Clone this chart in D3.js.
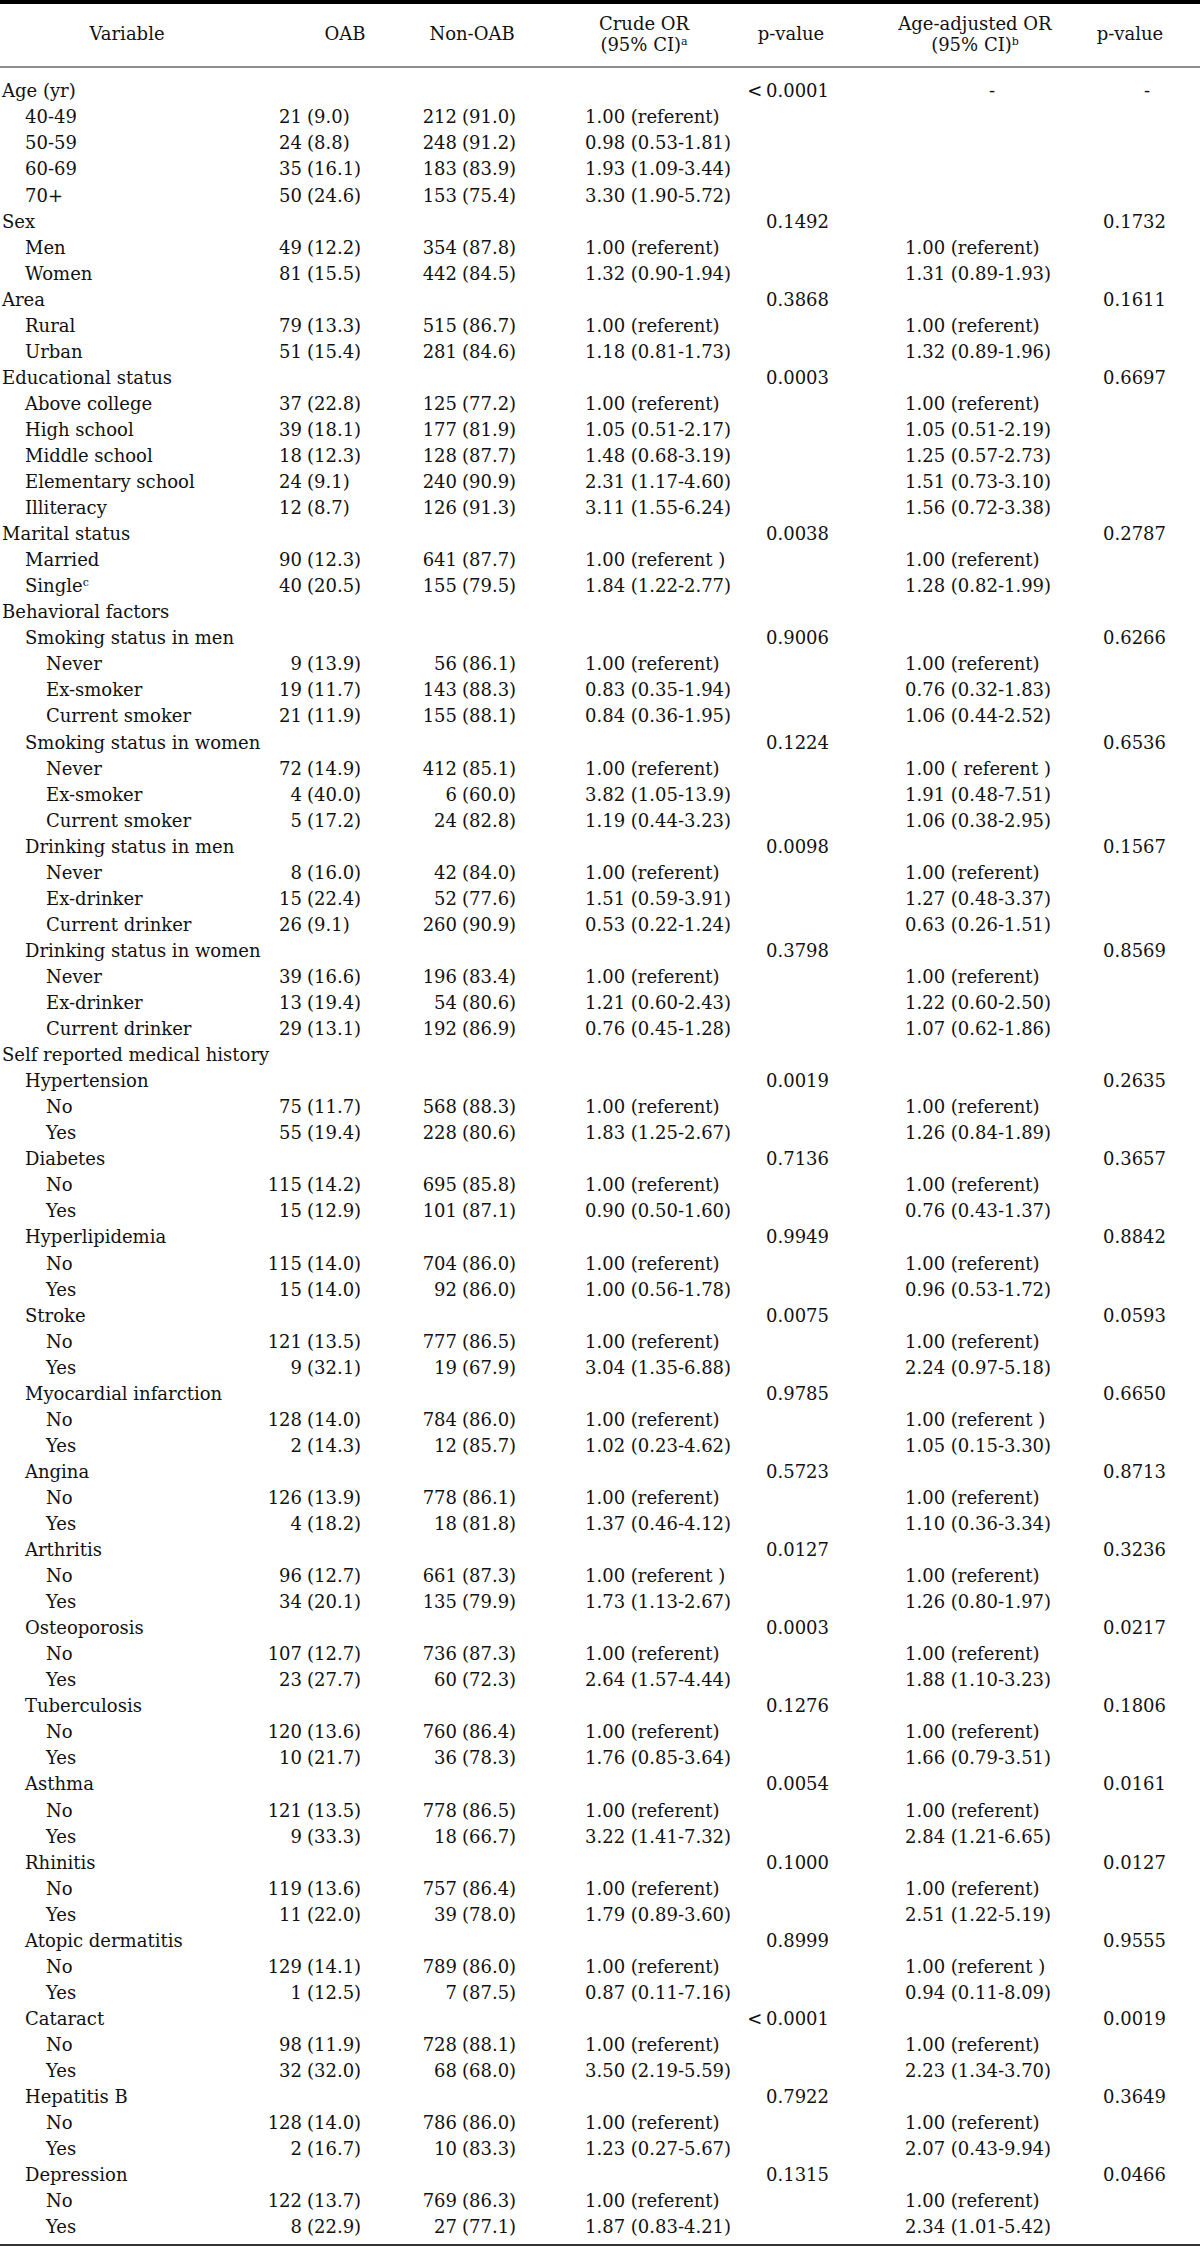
<!DOCTYPE html>
<html>
<head>
<meta charset="utf-8">
<script src="https://cdn.jsdelivr.net/npm/d3@7"></script>
<style>
  body { margin: 0; background: #fff; }
  text { font-family: "DejaVu Serif", "Liberation Serif", serif; font-size: 18px; fill: #111; }
</style>
</head>
<body>
<svg id="chart"></svg>
<script>
// row labels, "^" marks a superscript
const labels = [
  "Age (yr)", "40-49", "50-59", "60-69", "70+",
  "Sex", "Men", "Women",
  "Area", "Rural", "Urban",
  "Educational status", "Above college", "High school", "Middle school", "Elementary school", "Illiteracy",
  "Marital status", "Married", "Single^c",
  "Behavioral factors",
  "Smoking status in men", "Never", "Ex-smoker", "Current smoker",
  "Smoking status in women", "Never", "Ex-smoker", "Current smoker",
  "Drinking status in men", "Never", "Ex-drinker", "Current drinker",
  "Drinking status in women", "Never", "Ex-drinker", "Current drinker",
  "Self reported medical history",
  "Hypertension", "No", "Yes",
  "Diabetes", "No", "Yes",
  "Hyperlipidemia", "No", "Yes",
  "Stroke", "No", "Yes",
  "Myocardial infarction", "No", "Yes",
  "Angina", "No", "Yes",
  "Arthritis", "No", "Yes",
  "Osteoporosis", "No", "Yes",
  "Tuberculosis", "No", "Yes",
  "Asthma", "No", "Yes",
  "Rhinitis", "No", "Yes",
  "Atopic dermatitis", "No", "Yes",
  "Cataract", "No", "Yes",
  "Hepatitis B", "No", "Yes",
  "Depression", "No", "Yes"
];

const levels = [
  0, 1, 1, 1, 1,
  0, 1, 1,
  0, 1, 1,
  0, 1, 1, 1, 1, 1,
  0, 1, 1,
  0,
  1, 2, 2, 2,
  1, 2, 2, 2,
  1, 2, 2, 2,
  1, 2, 2, 2,
  0,
  1, 2, 2, 1, 2, 2, 1, 2, 2, 1, 2, 2, 1, 2, 2,
  1, 2, 2, 1, 2, 2, 1, 2, 2, 1, 2, 2, 1, 2, 2,
  1, 2, 2, 1, 2, 2, 1, 2, 2, 1, 2, 2, 1, 2, 2
];

const oab = [
  "", "21 (9.0)", "24 (8.8)", "35 (16.1)", "50 (24.6)",
  "", "49 (12.2)", "81 (15.5)",
  "", "79 (13.3)", "51 (15.4)",
  "", "37 (22.8)", "39 (18.1)", "18 (12.3)", "24 (9.1)", "12 (8.7)",
  "", "90 (12.3)", "40 (20.5)",
  "",
  "", "9 (13.9)", "19 (11.7)", "21 (11.9)",
  "", "72 (14.9)", "4 (40.0)", "5 (17.2)",
  "", "8 (16.0)", "15 (22.4)", "26 (9.1)",
  "", "39 (16.6)", "13 (19.4)", "29 (13.1)",
  "",
  "", "75 (11.7)", "55 (19.4)",
  "", "115 (14.2)", "15 (12.9)",
  "", "115 (14.0)", "15 (14.0)",
  "", "121 (13.5)", "9 (32.1)",
  "", "128 (14.0)", "2 (14.3)",
  "", "126 (13.9)", "4 (18.2)",
  "", "96 (12.7)", "34 (20.1)",
  "", "107 (12.7)", "23 (27.7)",
  "", "120 (13.6)", "10 (21.7)",
  "", "121 (13.5)", "9 (33.3)",
  "", "119 (13.6)", "11 (22.0)",
  "", "129 (14.1)", "1 (12.5)",
  "", "98 (11.9)", "32 (32.0)",
  "", "128 (14.0)", "2 (16.7)",
  "", "122 (13.7)", "8 (22.9)"
];

const nonOab = [
  "", "212 (91.0)", "248 (91.2)", "183 (83.9)", "153 (75.4)",
  "", "354 (87.8)", "442 (84.5)",
  "", "515 (86.7)", "281 (84.6)",
  "", "125 (77.2)", "177 (81.9)", "128 (87.7)", "240 (90.9)", "126 (91.3)",
  "", "641 (87.7)", "155 (79.5)",
  "",
  "", "56 (86.1)", "143 (88.3)", "155 (88.1)",
  "", "412 (85.1)", "6 (60.0)", "24 (82.8)",
  "", "42 (84.0)", "52 (77.6)", "260 (90.9)",
  "", "196 (83.4)", "54 (80.6)", "192 (86.9)",
  "",
  "", "568 (88.3)", "228 (80.6)",
  "", "695 (85.8)", "101 (87.1)",
  "", "704 (86.0)", "92 (86.0)",
  "", "777 (86.5)", "19 (67.9)",
  "", "784 (86.0)", "12 (85.7)",
  "", "778 (86.1)", "18 (81.8)",
  "", "661 (87.3)", "135 (79.9)",
  "", "736 (87.3)", "60 (72.3)",
  "", "760 (86.4)", "36 (78.3)",
  "", "778 (86.5)", "18 (66.7)",
  "", "757 (86.4)", "39 (78.0)",
  "", "789 (86.0)", "7 (87.5)",
  "", "728 (88.1)", "68 (68.0)",
  "", "786 (86.0)", "10 (83.3)",
  "", "769 (86.3)", "27 (77.1)"
];

const crudeOR = [
  "", "1.00 (referent)", "0.98 (0.53-1.81)", "1.93 (1.09-3.44)", "3.30 (1.90-5.72)",
  "", "1.00 (referent)", "1.32 (0.90-1.94)",
  "", "1.00 (referent)", "1.18 (0.81-1.73)",
  "", "1.00 (referent)", "1.05 (0.51-2.17)", "1.48 (0.68-3.19)", "2.31 (1.17-4.60)", "3.11 (1.55-6.24)",
  "", "1.00 (referent )", "1.84 (1.22-2.77)",
  "",
  "", "1.00 (referent)", "0.83 (0.35-1.94)", "0.84 (0.36-1.95)",
  "", "1.00 (referent)", "3.82 (1.05-13.9)", "1.19 (0.44-3.23)",
  "", "1.00 (referent)", "1.51 (0.59-3.91)", "0.53 (0.22-1.24)",
  "", "1.00 (referent)", "1.21 (0.60-2.43)", "0.76 (0.45-1.28)",
  "",
  "", "1.00 (referent)", "1.83 (1.25-2.67)",
  "", "1.00 (referent)", "0.90 (0.50-1.60)",
  "", "1.00 (referent)", "1.00 (0.56-1.78)",
  "", "1.00 (referent)", "3.04 (1.35-6.88)",
  "", "1.00 (referent)", "1.02 (0.23-4.62)",
  "", "1.00 (referent)", "1.37 (0.46-4.12)",
  "", "1.00 (referent )", "1.73 (1.13-2.67)",
  "", "1.00 (referent)", "2.64 (1.57-4.44)",
  "", "1.00 (referent)", "1.76 (0.85-3.64)",
  "", "1.00 (referent)", "3.22 (1.41-7.32)",
  "", "1.00 (referent)", "1.79 (0.89-3.60)",
  "", "1.00 (referent)", "0.87 (0.11-7.16)",
  "", "1.00 (referent)", "3.50 (2.19-5.59)",
  "", "1.00 (referent)", "1.23 (0.27-5.67)",
  "", "1.00 (referent)", "1.87 (0.83-4.21)"
];

const crudeP = [
  "<\u20090.0001", "", "", "", "",
  "0.1492", "", "",
  "0.3868", "", "",
  "0.0003", "", "", "", "", "",
  "0.0038", "", "",
  "",
  "0.9006", "", "", "",
  "0.1224", "", "", "",
  "0.0098", "", "", "",
  "0.3798", "", "", "",
  "",
  "0.0019", "", "", "0.7136", "", "", "0.9949", "", "", "0.0075", "", "", "0.9785", "", "",
  "0.5723", "", "", "0.0127", "", "", "0.0003", "", "", "0.1276", "", "", "0.0054", "", "",
  "0.1000", "", "", "0.8999", "", "", "<\u20090.0001", "", "", "0.7922", "", "", "0.1315", "", ""
];

const adjOR = [
  "-", "", "", "", "",
  "", "1.00 (referent)", "1.31 (0.89-1.93)",
  "", "1.00 (referent)", "1.32 (0.89-1.96)",
  "", "1.00 (referent)", "1.05 (0.51-2.19)", "1.25 (0.57-2.73)", "1.51 (0.73-3.10)", "1.56 (0.72-3.38)",
  "", "1.00 (referent)", "1.28 (0.82-1.99)",
  "",
  "", "1.00 (referent)", "0.76 (0.32-1.83)", "1.06 (0.44-2.52)",
  "", "1.00 ( referent )", "1.91 (0.48-7.51)", "1.06 (0.38-2.95)",
  "", "1.00 (referent)", "1.27 (0.48-3.37)", "0.63 (0.26-1.51)",
  "", "1.00 (referent)", "1.22 (0.60-2.50)", "1.07 (0.62-1.86)",
  "",
  "", "1.00 (referent)", "1.26 (0.84-1.89)",
  "", "1.00 (referent)", "0.76 (0.43-1.37)",
  "", "1.00 (referent)", "0.96 (0.53-1.72)",
  "", "1.00 (referent)", "2.24 (0.97-5.18)",
  "", "1.00 (referent )", "1.05 (0.15-3.30)",
  "", "1.00 (referent)", "1.10 (0.36-3.34)",
  "", "1.00 (referent)", "1.26 (0.80-1.97)",
  "", "1.00 (referent)", "1.88 (1.10-3.23)",
  "", "1.00 (referent)", "1.66 (0.79-3.51)",
  "", "1.00 (referent)", "2.84 (1.21-6.65)",
  "", "1.00 (referent)", "2.51 (1.22-5.19)",
  "", "1.00 (referent )", "0.94 (0.11-8.09)",
  "", "1.00 (referent)", "2.23 (1.34-3.70)",
  "", "1.00 (referent)", "2.07 (0.43-9.94)",
  "", "1.00 (referent)", "2.34 (1.01-5.42)"
];

const adjP = [
  "-", "", "", "", "",
  "0.1732", "", "",
  "0.1611", "", "",
  "0.6697", "", "", "", "", "",
  "0.2787", "", "",
  "",
  "0.6266", "", "", "",
  "0.6536", "", "", "",
  "0.1567", "", "", "",
  "0.8569", "", "", "",
  "",
  "0.2635", "", "", "0.3657", "", "", "0.8842", "", "", "0.0593", "", "", "0.6650", "", "",
  "0.8713", "", "", "0.3236", "", "", "0.0217", "", "", "0.1806", "", "", "0.0161", "", "",
  "0.0127", "", "", "0.9555", "", "", "0.0019", "", "", "0.3649", "", "", "0.0466", "", ""
];

const headers = [
  { lines: ["Variable"], x: 127 },
  { lines: ["OAB"], x: 345 },
  { lines: ["Non-OAB"], x: 472 },
  { lines: ["Crude OR", "(95% CI)^a"], x: 644 },
  { lines: ["p-value"], x: 791 },
  { lines: ["Age-adjusted OR", "(95% CI)^b"], x: 975 },
  { lines: ["p-value"], x: 1130 }
];

const width = 1200, height = 2247;

const svg = d3.select("#chart")
  .attr("width", width)
  .attr("height", height);

svg.append("rect").attr("width", width).attr("height", height).attr("fill", "#fff");

const y = d3.scalePoint()
  .domain(d3.range(labels.length))
  .range([91, 2227]);

const indent = d3.scaleOrdinal().domain([0, 1, 2]).range([2, 25, 46]);

// write text, turning "^x" into a superscript
function addText(sel, str) {
  const parts = str.split("^");
  sel.append("tspan").text(parts[0]);
  if (parts[1]) {
    sel.append("tspan")
      .attr("font-size", "11px")
      .attr("dy", "-0.6em")
      .text(parts[1]);
  }
}

// rules
svg.append("rect").attr("x", 0).attr("y", 0).attr("width", width).attr("height", 4).attr("fill", "#000");
svg.append("line")
  .attr("x1", 0).attr("x2", width).attr("y1", 67).attr("y2", 67)
  .attr("stroke", "#6a6a6a").attr("stroke-width", 1.6);
svg.append("line")
  .attr("x1", 0).attr("x2", width).attr("y1", 2245).attr("y2", 2245)
  .attr("stroke", "#333").attr("stroke-width", 2);

// header
const head = svg.append("g").attr("text-anchor", "middle");
headers.forEach((h) => {
  h.lines.forEach((line, i) => {
    const yy = h.lines.length === 1 ? 34 : (i === 0 ? 24 : 45);
    const t = head.append("text")
      .attr("x", h.x)
      .attr("y", yy)
      .attr("dy", "0.35em");
    addText(t, line);
  });
});

const rows = svg.append("g")
  .selectAll("g")
  .data(d3.range(labels.length))
  .join("g")
  .attr("transform", (i) => `translate(0,${y(i)})`);

rows.append("text")
  .attr("x", (i) => indent(levels[i]))
  .attr("dy", "0.35em")
  .each(function (i) { addText(d3.select(this), labels[i]); });

// count / percent columns, aligned on the opening bracket
function pairColumn(values, xc) {
  const g = rows.filter((i) => values[i] !== "");
  g.append("text")
    .attr("x", xc)
    .attr("dy", "0.35em")
    .attr("text-anchor", "end")
    .text((i) => values[i].split(" ")[0]);
  g.append("text")
    .attr("x", xc + 5)
    .attr("dy", "0.35em")
    .text((i) => values[i].split(" ")[1]);
}
pairColumn(oab, 302);
pairColumn(nonOab, 457);

function textColumn(values, x, anchor) {
  rows.filter((i) => values[i] !== "")
    .append("text")
    .attr("x", x)
    .attr("dy", "0.35em")
    .attr("text-anchor", anchor)
    .text((i) => values[i]);
}
textColumn(crudeOR, 585, "start");
textColumn(crudeP, 829, "end");
textColumn(adjOR, 905, "start");
textColumn(adjP, 1166, "end");

// the dashes in the age row sit centred
rows.filter((i) => adjOR[i] === "-").selectAll("text")
  .filter(function () { return this.textContent === "-"; })
  .attr("text-anchor", "middle")
  .attr("x", function () { return +this.getAttribute("x") === 905 ? 992 : 1147; });
</script>
</body>
</html>
